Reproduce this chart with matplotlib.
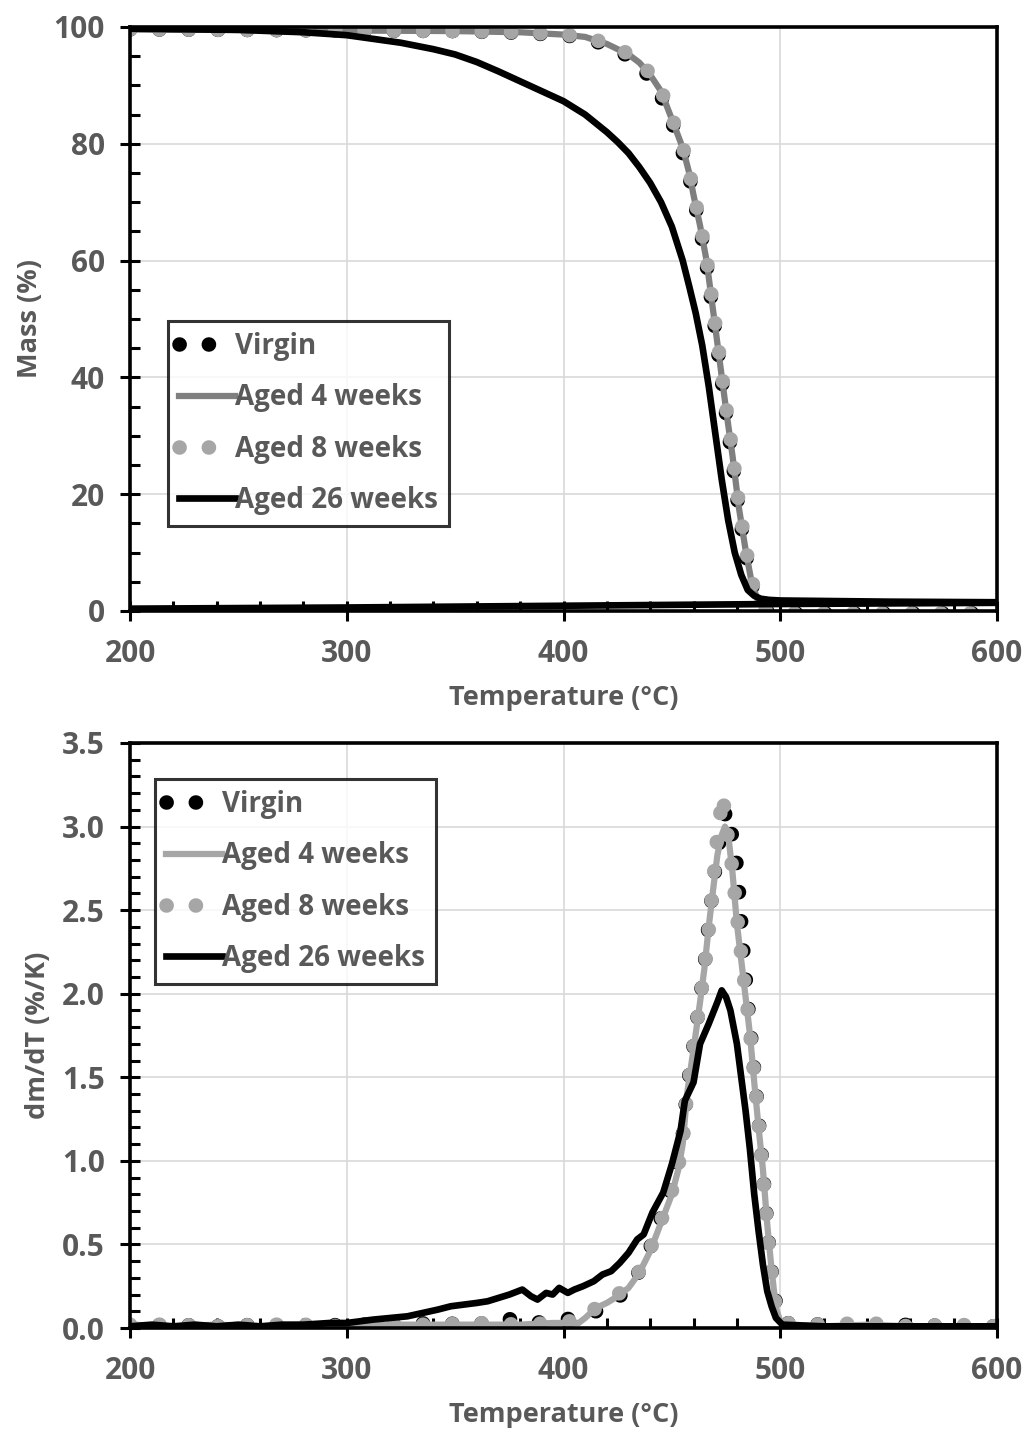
import numpy as np
import matplotlib
matplotlib.use("Agg")
import matplotlib.pyplot as plt
from matplotlib.ticker import MultipleLocator, FormatStrFormatter

plt.rcParams['font.family'] = ['Open Sans', 'DejaVu Sans']
plt.rcParams['font.weight'] = 'bold'

TXT = '#595959'
BLACK = '#000000'
GRAY_MID = '#7f7f7f'
GRAY_LIGHT = '#a6a6a6'

labels = ['Virgin', 'Aged 4 weeks', 'Aged 8 weeks', 'Aged 26 weeks']

# ---- TGA mass curves (top panel) ----
t_virgin = [200, 250, 300, 350, 380, 400, 410, 420, 430, 435, 440, 445, 450, 455, 458, 460,
            463, 466, 469, 472, 475, 478, 481, 484, 487, 490, 493, 496, 500, 550, 600]
m_virgin = [99.6, 99.5, 99.4, 99.3, 99.0, 98.6, 98.1, 96.9, 95.0, 93.5, 91.3, 88.2, 83.8, 78.5, 74.6,
            70.8, 65.6, 59.4, 51.0, 42.4, 33.8, 25.6, 17.0, 10.0, 4.2, 1.3, 0.1, -0.3, -0.4, -0.4, -0.4]

t_4w = [200, 250, 300, 350, 380, 400, 410, 420, 430, 435, 440, 445, 450, 455, 458, 460,
        463, 466, 469, 472, 475, 478, 481, 484, 487, 490, 493, 496, 500, 550, 600]
m_4w = [99.6, 99.5, 99.4, 99.3, 99.1, 98.7, 98.3, 97.1, 95.3, 93.9, 91.8, 89.0, 84.2, 79.3, 75.0,
        71.2, 66.0, 60.0, 51.5, 43.0, 34.5, 26.5, 17.5, 10.5, 4.5, 1.5, 0.2, -0.3, -0.4, -0.4, -0.4]

t_8w = [200, 250, 300, 350, 380, 400, 410, 420, 430, 435, 440, 445, 450, 455, 458, 460,
        463, 466, 469, 472, 475, 478, 481, 484, 487, 490, 493, 496, 500, 550, 600]
m_8w = [99.6, 99.5, 99.4, 99.3, 99.1, 98.7, 98.3, 97.2, 95.4, 94.0, 92.0, 89.2, 84.5, 79.6, 75.4,
        71.6, 66.4, 60.5, 52.0, 43.6, 35.0, 27.0, 18.0, 11.0, 5.0, 1.7, 0.2, -0.3, -0.4, -0.4, -0.4]

t_26w = [200, 250, 280, 300, 325, 340, 350, 360, 370, 380, 390, 400, 410, 420, 425, 430, 435, 440,
         445, 450, 455, 458, 461, 464, 467, 470, 473, 476, 479, 482, 485, 488, 491, 495, 500, 550, 600,
         600, 500, 400, 300, 200]
m_26w = [99.7, 99.5, 99.1, 98.6, 97.3, 96.2, 95.3, 94.0, 92.4, 90.7, 89.0, 87.3, 85.0, 82.0, 80.3,
         78.4, 76.0, 73.3, 70.0, 65.8, 60.0, 55.6, 51.0, 45.5, 38.5, 30.5, 22.5, 15.5, 10.0, 6.2, 3.6,
         2.6, 2.1, 1.9, 1.8, 1.6, 1.5,
         1.4, 1.2, 0.9, 0.6, 0.4]

# ---- DTG curves (bottom panel) ----
dt_virgin = [200, 220, 240, 260, 280, 300, 320, 340, 360, 372, 385, 395, 400, 405, 410, 415, 420, 425,
             430, 435, 440, 445, 450, 453, 455, 457, 459, 461, 463, 465, 467, 469, 471, 473, 475,
             477, 479, 481, 483, 485, 487, 489, 491, 493, 495, 497, 499, 501, 520, 540, 560, 580, 600]
d_virgin = [0.01, 0.02, 0.01, 0.02, 0.01, 0.02, 0.02, 0.03, 0.02, 0.06, 0.03, 0.04, 0.05, 0.06, 0.09, 0.10,
            0.13, 0.18, 0.24, 0.34, 0.48, 0.66, 0.85, 1.00, 1.15, 1.42, 1.60, 1.78, 1.97, 2.16, 2.42,
            2.64, 2.85, 2.98, 3.10, 2.98, 2.90, 2.60, 2.25, 1.95, 1.68, 1.40, 1.10, 0.78, 0.46, 0.22,
            0.08, 0.03, 0.02, 0.01, 0.02, 0.01, 0.01]

dt_4w = [200, 220, 240, 260, 280, 300, 320, 340, 360, 380, 395, 400, 407, 410, 415, 420, 425, 430, 435,
         440, 445, 450, 453, 455, 457, 459, 461, 463, 465, 467, 469, 471, 473, 474.5, 476, 478, 480,
         482, 484, 486, 488, 490, 492, 494, 496, 498, 500, 505, 520, 540, 560, 580, 600]
d_4w = [0.02, 0.01, 0.02, 0.01, 0.02, 0.01, 0.02, 0.02, 0.02, 0.02, 0.03, 0.03, 0.03, 0.06, 0.12, 0.15,
        0.19, 0.24, 0.33, 0.46, 0.63, 0.80, 0.95, 1.10, 1.40, 1.58, 1.76, 1.95, 2.15, 2.40, 2.62,
        2.83, 2.95, 3.00, 2.95, 2.72, 2.42, 2.20, 1.98, 1.76, 1.47, 1.20, 0.95, 0.62, 0.35, 0.12,
        0.04, 0.02, 0.01, 0.02, 0.01, 0.01, 0.01]

dt_8w = [200, 220, 240, 260, 280, 300, 320, 340, 360, 380, 395, 400, 407, 410, 415, 420, 425, 430, 435,
         440, 445, 450, 453, 455, 457, 459, 461, 463, 465, 467, 469, 471, 473.5, 475, 477, 479, 481,
         483, 485, 487, 489, 491, 493, 495, 497, 499, 501, 520, 540, 560, 580, 600]
d_8w = [0.02, 0.02, 0.01, 0.02, 0.02, 0.01, 0.02, 0.02, 0.03, 0.02, 0.03, 0.04, 0.04, 0.07, 0.12, 0.16,
        0.20, 0.25, 0.34, 0.47, 0.64, 0.82, 0.97, 1.12, 1.40, 1.58, 1.77, 1.96, 2.14, 2.38, 2.65,
        2.95, 3.19, 3.00, 2.85, 2.60, 2.35, 2.12, 1.90, 1.65, 1.38, 1.08, 0.76, 0.45, 0.20, 0.07,
        0.03, 0.02, 0.03, 0.01, 0.02, 0.01]

dt_26w = [200, 210, 220, 230, 240, 250, 260, 270, 280, 292, 300, 312, 320, 328, 335, 342, 348, 354,
          360, 365, 370, 375, 381, 385, 388, 392, 395, 398, 402, 405, 409, 414, 418, 422, 426, 430,
          434, 437, 441, 446, 450, 454, 456, 460, 463, 467, 471, 473, 475, 477, 480, 482, 484, 486,
          488, 490, 492, 494, 496, 498, 501, 520, 550, 580, 600]
d_26w = [0.01, 0.02, 0.01, 0.02, 0.01, 0.02, 0.01, 0.02, 0.02, 0.03, 0.03, 0.05, 0.06, 0.07, 0.09,
         0.11, 0.13, 0.14, 0.15, 0.16, 0.18, 0.20, 0.23, 0.19, 0.17, 0.21, 0.20, 0.24, 0.21, 0.23,
         0.25, 0.28, 0.32, 0.34, 0.39, 0.45, 0.53, 0.56, 0.69, 0.81, 0.98, 1.18, 1.36, 1.47, 1.70,
         1.82, 1.95, 2.02, 1.98, 1.90, 1.70, 1.50, 1.30, 1.07, 0.80, 0.58, 0.38, 0.22, 0.13, 0.06,
         0.02, 0.01, 0.01, 0.01, 0.01]

W, H = 1026, 1432
fig = plt.figure(figsize=(W / 100, H / 100), dpi=100)

FS_TICK = 21.5
FS_LEG = 20
FS_LAB = 19.5
DOT = dict(linestyle=(0, (0.01, 2.0)), dash_capstyle='round', linewidth=10.5)


def style_axes(ax, ymax, ymajor, yminor, fmt):
    ax.set_xlim(200, 600)
    ax.set_ylim(0, ymax)
    ax.xaxis.set_major_locator(MultipleLocator(100))
    ax.xaxis.set_minor_locator(MultipleLocator(20))
    ax.yaxis.set_major_locator(MultipleLocator(ymajor))
    ax.yaxis.set_minor_locator(MultipleLocator(yminor))
    ax.yaxis.set_major_formatter(FormatStrFormatter(fmt))
    ax.grid(True, which='major', color='#d9d9d9', linewidth=1.2, zorder=0)
    ax.set_axisbelow(True)
    for s in ax.spines.values():
        s.set_linewidth(2.6)
        s.set_color(BLACK)
    ax.tick_params(which='major', direction='inout', length=14, width=2.2, color=BLACK,
                   labelsize=FS_TICK, labelcolor=TXT)
    ax.tick_params(axis='x', which='major', pad=13)
    ax.tick_params(axis='y', which='major', pad=11)
    ax.tick_params(which='minor', direction='in', length=7, width=2.2, color=BLACK)
    ax.tick_params(axis='x', which='minor', top=False)
    ax.tick_params(axis='y', which='minor', right=False)
    for lab in ax.get_xticklabels() + ax.get_yticklabels():
        lab.set_fontweight('bold')
    ax.set_xlabel('Temperature (°C)', fontsize=FS_LAB, color=TXT, fontweight='bold', labelpad=12)


def add_legend(ax, x0, y0):
    leg = ax.legend(loc='upper left', bbox_to_anchor=(x0 / W, 1 - y0 / H),
                    bbox_transform=fig.transFigure, borderaxespad=0, frameon=True,
                    fancybox=False, fontsize=FS_LEG, handlelength=2.0, handletextpad=0.0,
                    labelspacing=0.8, borderpad=0.4)
    leg._legend_box.sep = 0
    fr = leg.get_frame()
    fr.set_edgecolor(BLACK)
    fr.set_linewidth(2.2)
    for t in leg.get_texts():
        t.set_color(TXT)
        t.set_fontweight('bold')
    return leg


# top panel: mass
ax1 = fig.add_axes([130 / W, 1 - 611 / H, 867 / W, 584 / H])
ax1.plot(t_virgin, m_virgin, color=BLACK, label=labels[0], **DOT)
ax1.plot(t_4w, m_4w, color=GRAY_MID, linewidth=4.5, label=labels[1])
ax1.plot(t_8w, m_8w, color=GRAY_LIGHT, label=labels[2], **DOT)
ax1.plot(t_26w, m_26w, color=BLACK, linewidth=4.8, label=labels[3])
style_axes(ax1, 100, 20, 5, '%d')
ax1.set_ylabel('Mass (%)', fontsize=FS_LAB, color=TXT, fontweight='bold', labelpad=8)
add_legend(ax1, 168, 321)

# bottom panel: derivative
ax2 = fig.add_axes([130 / W, 1 - 1328 / H, 867 / W, 585 / H])
ax2.plot(dt_virgin, d_virgin, color=BLACK, label=labels[0], **DOT)
ax2.plot(dt_4w, d_4w, color=GRAY_LIGHT, linewidth=4.5, label=labels[1])
ax2.plot(dt_8w, d_8w, color=GRAY_LIGHT, label=labels[2], **DOT)
ax2.plot(dt_26w, d_26w, color=BLACK, linewidth=4.8, label=labels[3])
style_axes(ax2, 3.5, 0.5, 0.1, '%.1f')
ax2.set_ylabel('dm/dT (%/K)', fontsize=FS_LAB, color=TXT, fontweight='bold', labelpad=8)
add_legend(ax2, 155, 779)

fig.savefig('out.png', dpi=100)
